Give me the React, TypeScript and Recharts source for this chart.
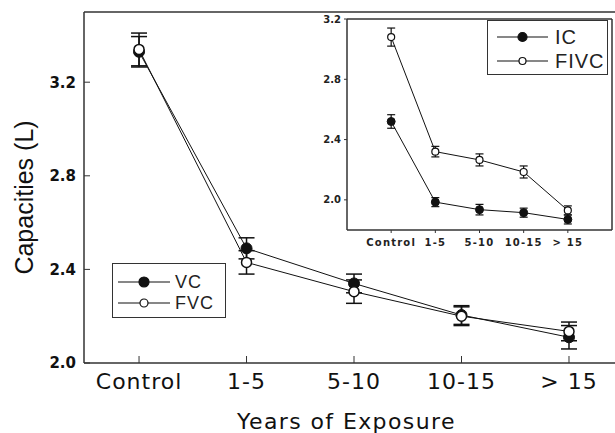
import {
  ErrorBar,
  Legend,
  Line,
  LineChart,
  ReferenceLine,
  XAxis,
  YAxis,
} from "recharts";

// exposure groups (x positions 0..4)
const groups = ["Control", "1-5", "5-10", "10-15", "> 15"];

// main panel: vital capacity / forced vital capacity (L)
const vc = [3.33, 2.49, 2.34, 2.205, 2.11];
const vcErr = [0.065, 0.045, 0.04, 0.04, 0.05];
const fvc = [3.34, 2.43, 2.305, 2.2, 2.135];
const fvcErr = [0.07, 0.05, 0.05, 0.04, 0.04];
const mainTicks = [2.0, 2.4, 2.8, 3.2];

// inset: inspiratory capacity / forced inspiratory vital capacity (L)
const ic = [2.52, 1.985, 1.935, 1.915, 1.87];
const icErr = [0.045, 0.03, 0.035, 0.03, 0.03];
const fivc = [3.08, 2.32, 2.265, 2.185, 1.93];
const fivcErr = [0.06, 0.035, 0.04, 0.04, 0.03];
const insetTicks = [2.0, 2.4, 2.8, 3.2];

const SANS = "'DejaVu Sans', Verdana, sans-serif";
const ARIAL = "'Liberation Sans', Arial, sans-serif";
const INK = "#111";
const AXIS = "#333";

const mainData = groups.map((g, i) => ({
  x: i,
  vc: vc[i],
  vcErr: vcErr[i],
  fvc: fvc[i],
  fvcErr: fvcErr[i],
}));

const insetData = groups.map((g, i) => ({
  x: i,
  ic: ic[i],
  icErr: icErr[i],
  fivc: fivc[i],
  fivcErr: fivcErr[i],
}));

function LegendBox({
  items,
  width,
  height,
  rowH,
  padTop,
  lineW,
  lineLeft,
  textLeft,
  fontSize,
  r,
}: any) {
  return (
    <div
      style={{
        width,
        height,
        boxSizing: "border-box",
        border: `1.5px solid ${AXIS}`,
        background: "#fff",
        paddingTop: padTop,
        position: "relative",
      }}
    >
      {items.map((it: any) => (
        <div
          key={it.label}
          style={{ height: rowH, position: "relative", display: "flex", alignItems: "center" }}
        >
          <svg
            width={lineW}
            height={14}
            style={{ position: "absolute", left: lineLeft, top: rowH / 2 - 7 }}
          >
            <line x1={0} y1={7} x2={lineW} y2={7} stroke={INK} strokeWidth={1.2} />
            <circle
              cx={lineW / 2}
              cy={7}
              r={it.filled ? r : r - 1}
              fill={it.filled ? INK : "#fff"}
              stroke={INK}
              strokeWidth={1.2}
            />
          </svg>
          <span
            style={{
              position: "absolute",
              left: textLeft,
              fontFamily: ARIAL,
              fontSize,
              letterSpacing: 1,
              color: "#222",
              lineHeight: 1,
            }}
          >
            {it.label}
          </span>
        </div>
      ))}
    </div>
  );
}

function Inset() {
  return (
    <div style={{ position: "absolute", left: 320, top: 10, width: 295, height: 245 }}>
      <LineChart
        width={295}
        height={245}
        data={insetData}
        margin={{ top: 9, right: 3, left: 0, bottom: 0 }}
      >
        <XAxis
          dataKey="x"
          type="number"
          domain={[-1, 5]}
          ticks={[0, 1, 2, 3, 4]}
          tickFormatter={(v) => groups[v]}
          interval={0}
          height={25}
          stroke={AXIS}
          axisLine={{ stroke: AXIS, strokeWidth: 1.5 }}
          tickSize={3}
          tickMargin={6}
          tick={{ fill: "#222", fontSize: 10, fontWeight: 700, fontFamily: SANS, letterSpacing: 1.2 }}
        />
        <YAxis
          type="number"
          domain={[1.8, 3.2]}
          ticks={insetTicks}
          tickFormatter={(v) => v.toFixed(1)}
          width={27}
          axisLine={{ stroke: AXIS, strokeWidth: 1.5 }}
          stroke={AXIS}
          tickSize={3}
          tickMargin={3}
          tick={{ fill: "#222", fontSize: 10, fontWeight: 700, fontFamily: SANS }}
        />
        <ReferenceLine y={3.2} stroke={AXIS} strokeWidth={1.5} />
        <ReferenceLine x={5} stroke={AXIS} strokeWidth={1.5} />
        <Line
          dataKey="fivc"
          name="FIVC"
          stroke={INK}
          strokeWidth={1}
          dot={{ r: 3.5, fill: "#fff", stroke: INK, strokeWidth: 1.2 }}
          isAnimationActive={false}
        >
          <ErrorBar dataKey="fivcErr" width={4} stroke={INK} strokeWidth={1.2} direction="y" />
        </Line>
        <Line
          dataKey="ic"
          name="IC"
          stroke={INK}
          strokeWidth={1}
          dot={{ r: 4, fill: INK, stroke: INK, strokeWidth: 1 }}
          isAnimationActive={false}
        >
          <ErrorBar dataKey="icErr" width={4} stroke={INK} strokeWidth={1.2} direction="y" />
        </Line>
        <Legend
          layout="vertical"
          align="center"
          verticalAlign="middle"
          wrapperStyle={{ position: "absolute", left: 167, top: 10, width: "auto", height: "auto" }}
          content={() => (
            <LegendBox
              items={[
                { label: "IC", filled: true },
                { label: "FIVC", filled: false },
              ]}
              width={121}
              height={55}
              rowH={24}
              padTop={4}
              lineW={51}
              lineLeft={9}
              textLeft={67}
              fontSize={20}
              r={4.5}
            />
          )}
        />
      </LineChart>
    </div>
  );
}

export default function App() {
  return (
    <div
      style={{
        position: "absolute",
        left: 0,
        top: 0,
        width: 615,
        height: 433,
        overflow: "hidden",
        background: "#fff",
      }}
    >
      <LineChart
        width={615}
        height={433}
        data={mainData}
        margin={{ top: 12, right: 0, left: 0, bottom: 0 }}
      >
        <XAxis
          dataKey="x"
          type="number"
          domain={[-0.512, 4.428]}
          allowDataOverflow
          ticks={[0, 1, 2, 3, 4]}
          tickFormatter={(v) => groups[v]}
          interval={0}
          height={70}
          axisLine={{ stroke: AXIS, strokeWidth: 1.5 }}
          stroke={AXIS}
          tickSize={-7}
          tickMargin={17}
          tick={{ fill: "#111", fontSize: 22, fontFamily: SANS, letterSpacing: 1 }}
          label={{
            content: ({ viewBox }: any) => (
              <text
                x={viewBox.x + viewBox.width / 2 - 3}
                y={viewBox.y + 66}
                textAnchor="middle"
                fontFamily={SANS}
                fontSize={22}
                letterSpacing={1.4}
                fill="#111"
              >
                Years of Exposure
              </text>
            ),
          }}
        />
        <YAxis
          type="number"
          domain={[2.0, 3.5]}
          ticks={mainTicks}
          tickFormatter={(v) => v.toFixed(1)}
          width={84}
          axisLine={{ stroke: AXIS, strokeWidth: 1.5 }}
          stroke={AXIS}
          tickSize={-6}
          tickMargin={14}
          tick={{ fill: "#111", fontSize: 15, fontWeight: 700, fontFamily: SANS }}
          label={{
            content: ({ viewBox }: any) => {
              const cx = 33;
              const cy = viewBox.y + viewBox.height / 2 + 10;
              return (
                <text
                  x={cx}
                  y={cy}
                  transform={`rotate(-90, ${cx}, ${cy})`}
                  textAnchor="middle"
                  fontFamily={ARIAL}
                  fontSize={25}
                  fill="#111"
                >
                  Capacities (L)
                </text>
              );
            },
          }}
        />
        <ReferenceLine y={3.5} stroke={AXIS} strokeWidth={1.5} />
        <Line
          dataKey="vc"
          name="VC"
          stroke={INK}
          strokeWidth={1}
          dot={{ r: 5.5, fill: INK, stroke: INK, strokeWidth: 1 }}
          isAnimationActive={false}
        >
          <ErrorBar dataKey="vcErr" width={8} stroke={INK} strokeWidth={1.5} direction="y" />
        </Line>
        <Line
          dataKey="fvc"
          name="FVC"
          stroke={INK}
          strokeWidth={1}
          dot={{ r: 5, fill: "#fff", stroke: INK, strokeWidth: 1.5 }}
          isAnimationActive={false}
        >
          <ErrorBar dataKey="fvcErr" width={8} stroke={INK} strokeWidth={1.5} direction="y" />
        </Line>
        <Legend
          layout="vertical"
          align="center"
          verticalAlign="middle"
          wrapperStyle={{ position: "absolute", left: 112, top: 263, width: "auto", height: "auto" }}
          content={() => (
            <LegendBox
              items={[
                { label: "VC", filled: true },
                { label: "FVC", filled: false },
              ]}
              width={114}
              height={55}
              rowH={21}
              padTop={7}
              lineW={52}
              lineLeft={5}
              textLeft={62}
              fontSize={18}
              r={5}
            />
          )}
        />
      </LineChart>
      <Inset />
    </div>
  );
}
